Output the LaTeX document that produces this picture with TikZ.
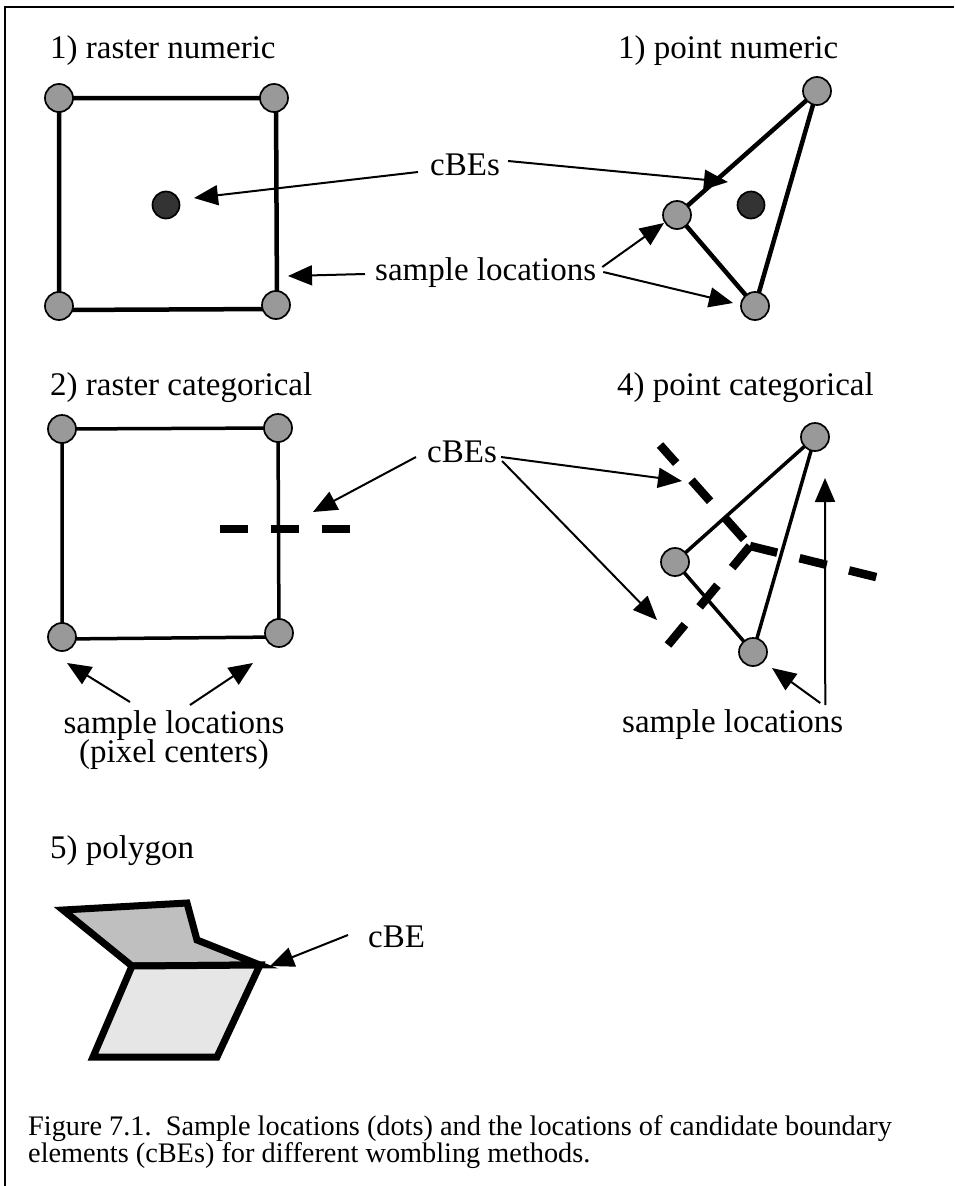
\documentclass[tikz,border=0pt]{standalone}
\usepackage{fontspec}
\setmainfont{Liberation Serif}
\usetikzlibrary{arrows.meta}
\definecolor{smpgray}{HTML}{999999}
\definecolor{cbedark}{HTML}{333333}
\definecolor{polyA}{HTML}{BFBFBF}
\definecolor{polyB}{HTML}{E6E6E6}
\begin{document}
\begin{tikzpicture}[x=1pt,y=-1pt,
  smp/.style={circle, draw=black, line width=1.7pt, fill=smpgray, minimum size=28pt, inner sep=0pt},
  cbedot/.style={circle, draw=black, line width=1.7pt, fill=cbedark, minimum size=27pt, inner sep=0pt},
  edgeA/.style={line width=4.5pt},
  edgeB/.style={line width=3.5pt},
  cbedash/.style={line width=8.5pt, dash pattern=on 28pt off 23pt},
  arr/.style={line width=2pt, -{Triangle[length=24pt,width=20pt]}},
  lbl/.style={font=\fontsize{33}{29}\selectfont, inner sep=0pt, anchor=base west},
  captxt/.style={font=\fontsize{28.3}{27}\selectfont, inner sep=0pt, anchor=base west},
  poly/.style={draw=black, line width=7pt, line join=miter}
  ]
\useasboundingbox (0,0) rectangle (954,1186);
% frame
\draw[line width=2pt] (954,6.5) -- (4.5,6.5) -- (4.5,1186);

% titles
\node[lbl] (t_rn) at (50,58) {1) raster numeric};
\node[lbl] (t_pn) at (618,58) {1) point numeric};
\node[lbl] (t_rc) at (50,395) {2) raster categorical};
\node[lbl] (t_pc) at (617,395) {4) point categorical};
\node[lbl] (t_pg) at (50,858) {5) polygon};

% ---------- raster numeric ----------
\coordinate (rn1) at (59,98);
\coordinate (rn2) at (276,98);
\coordinate (rn3) at (277,309);
\coordinate (rn4) at (59,310);
\draw[edgeA] (rn1) -- (rn2) -- (rn3) -- (rn4) -- cycle;
\node[smp] (rnA) at (rn1) {};
\node[smp] (rnB) at (274,98) {};
\node[smp] (rnC) at (276,305) {};
\node[smp] (rnD) at (59,306) {};
\node[cbedot] (rnc) at (166,205) {};

% ---------- point numeric ----------
\coordinate (pn1) at (817,91);
\coordinate (pn2) at (677,215);
\coordinate (pn3) at (755,306);
\draw[edgeA] (pn2) -- (pn1) -- (pn3) -- cycle;
\node[smp] (pnA) at (pn1) {};
\node[smp] (pnB) at (pn2) {};
\node[smp] (pnC) at (pn3) {};
\node[cbedot] (pnc) at (751,205) {};

% labels row 1
\node[lbl] (cbe1) at (430,175) {cBEs};
\node[lbl] (sl1) at (375,280) {sample locations};
\coordinate (t1) at (194,198);
\coordinate (t2) at (728,182);
\coordinate (t3) at (288,276);
\coordinate (t4) at (664,223);
\coordinate (t5) at (733,303);
\draw[arr] ([shift={(-12,-3)}]cbe1.base west) -- (t1);
\draw[arr] ([shift={(8,-14)}]cbe1.base east) -- (t2);
\draw[arr] ([shift={(-10,-6)}]sl1.base west) -- (t3);
\draw[arr] ([shift={(6,-13)}]sl1.base east) -- (t4);
\draw[arr] ([shift={(7,-8)}]sl1.base east) -- (t5);

% ---------- raster categorical ----------
\coordinate (rc1) at (62,429);
\coordinate (rc2) at (278,428);
\coordinate (rc3) at (279,637);
\coordinate (rc4) at (62,639);
\draw[edgeB] (rc1) -- (rc2) -- (rc3) -- (rc4) -- cycle;
\draw[cbedash] (220,529) -- (350,529);
\node[smp] (rcA) at (rc1) {};
\node[smp] (rcB) at (278,428) {};
\node[smp] (rcC) at (279,633) {};
\node[smp] (rcD) at (62,637) {};

% ---------- point categorical ----------
\coordinate (pc1) at (815,437);
\coordinate (pc2) at (675,562);
\coordinate (pc3) at (753,652);
\draw[edgeB] (pc2) -- (pc1) -- (pc3) -- cycle;
\coordinate (J) at (750,546);
\draw[cbedash, dash phase=42pt] (J) -- (660,445);
\draw[cbedash] (J) -- (880,578);
\draw[cbedash] (J) -- (668,645);
\node[smp] (pcA) at (pc1) {};
\node[smp] (pcB) at (pc2) {};
\node[smp] (pcC) at (pc3) {};

% labels row 2
\node[lbl] (cbe2) at (427,462) {cBEs};
\coordinate (t6) at (313,512);
\coordinate (t7) at (682,481);
\coordinate (t8) at (657,620);
\draw[arr] ([shift={(-11,-5)}]cbe2.base west) -- (t6);
\draw[arr] ([shift={(4,-5)}]cbe2.base east) -- (t7);
\draw[arr] ([shift={(5,-1)}]cbe2.base east) -- (t8);

\node[lbl, anchor=base] (sl2a) at (174,733) {sample locations};
\node[lbl, anchor=base] (sl2b) at (174,762) {(pixel centers)};
\coordinate (t9) at (67,663);
\coordinate (t10) at (253,663);
\draw[arr] ([shift={(-44,-31)}]sl2a.base) -- (t9);
\draw[arr] ([shift={(16,-28)}]sl2a.base) -- (t10);

\node[lbl] (sl3) at (622,732) {sample locations};
\coordinate (t11) at (772,668);
\coordinate (t12) at (825,478);
\draw[arr] ([shift={(-23,-29)}]sl3.base east) -- (t11);
\draw[arr] ([shift={(-18,-27)}]sl3.base east) -- (t12);

% ---------- polygon ----------
\draw[poly, fill=polyA] (63,910) -- (187,903) -- (197,940) -- (260,965) -- (132,966) -- cycle;
\draw[poly, fill=polyB] (132,966) -- (260,965) -- (217,1057) -- (93,1057) -- cycle;
\node[lbl] (cbe3) at (368,947) {cBE};
\coordinate (t13) at (270,966);
\draw[arr] ([shift={(-20,-12)}]cbe3.base west) -- (t13);

% caption
\node[captxt] (cap1) at (28,1135) {Figure 7.1.\ \ Sample locations (dots) and the locations of candidate boundary};
\node[captxt] (cap2) at (28,1162) {elements (cBEs) for different wombling methods.};
\end{tikzpicture}
\end{document}
